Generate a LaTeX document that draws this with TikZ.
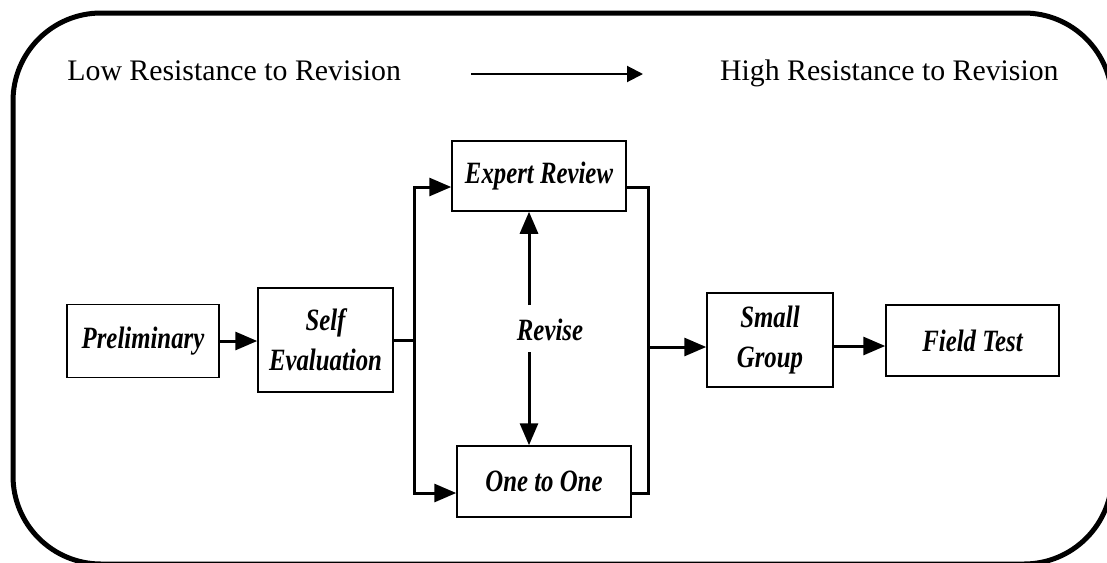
\documentclass[tikz,border=0pt]{standalone}
\usepackage{fontspec}
\setmainfont{Liberation Serif}
\newfontfamily\stagefont[FakeStretch=0.8]{Liberation Serif}
\usetikzlibrary{arrows.meta}

\begin{document}
\begin{tikzpicture}[x=0.5pt,y=-0.5pt,
        stage/.style={draw, line width=0.75pt, inner sep=0pt, align=center,
            font=\stagefont\fontsize{15.5}{20}\selectfont\bfseries\itshape},
        flow/.style={line width=1.5pt, -{Triangle[length=11pt,width=9pt]}},
        link/.style={line width=1.5pt},
        heading/.style={inner sep=0pt, font=\fontsize{14.9}{18}\selectfont}]
        \useasboundingbox (0,0) rectangle (1107,562);
        \begin{scope}
            \clip (0,0) rectangle (1107,562);
            \draw[line width=2.5pt, rounded corners=44pt] (13,13) rectangle (1112,564);
        \end{scope}
        % resistance scale
        \node[heading, anchor=base west] (low) at (67,80) {Low Resistance to Revision};
        \node[heading, anchor=base east] (high) at (1059,80) {High Resistance to Revision};
        \coordinate (scalestart) at (471,74);
        \coordinate (scaleend) at (643,74);
        \draw[line width=1pt, -{Triangle[length=8pt,width=8pt]}] (scalestart) -- (scaleend);
        % stages
        \node[stage, minimum width=76pt, minimum height=36.5pt] (prelim) at (143,341) {Preliminary};
        \node[stage, minimum width=67.5pt, minimum height=52pt] (self) at (325.5,340) {Self\\Evaluation};
        \node[stage, minimum width=87pt, minimum height=35pt] (expert) at (539,176) {Expert Review};
        \node[stage, minimum width=87pt, minimum height=35.5pt] (one) at (544,481.5) {One to One};
        \node[stage, minimum width=63pt, minimum height=47pt] (small) at (770,340) {Small\\Group};
        \node[stage, minimum width=86.5pt, minimum height=35.5pt] (field) at (972.5,340.5) {Field Test};
        \node[stage, draw=none] (revise) at (550,330) {Revise};
        % connectors
        \draw[flow] (prelim.east) -- (prelim.east -| self.west);
        \draw[flow] (self.east) -- ++(21,0) coordinate (split) |- ([yshift=-5.5pt]expert.west);
        \draw[flow] (split) |- ([yshift=-5.75pt]one.west);
        \coordinate (join) at (648,347);
        \draw[link] ([yshift=-5.5pt]expert.east) -| (join);
        \draw[link] ([yshift=-5.75pt]one.east) -| (join);
        \draw[flow] (join) -- (join -| small.west);
        \draw[flow] ([yshift=-3pt]small.east) -- ([yshift=-3pt]small.east -| field.west);
        \coordinate (reviseup) at (529,305);
        \coordinate (revisedown) at (529,352);
        \draw[flow] (reviseup) -- (reviseup |- expert.south);
        \draw[flow] (revisedown) -- (revisedown |- one.north);
\end{tikzpicture}
\end{document}
